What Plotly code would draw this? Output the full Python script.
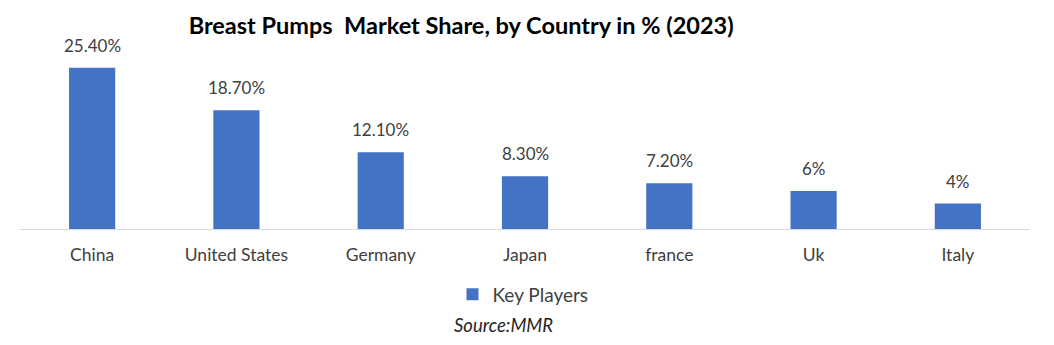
import plotly.graph_objects as go

countries = ["China", "United States", "Germany", "Japan", "france", "Uk", "Italy"]
shares = [25.4, 18.7, 12.1, 8.3, 7.2, 6, 4]
share_labels = ["25.40%", "18.70%", "12.10%", "8.30%", "7.20%", "6%", "4%"]
series_name = "Key Players"

FONT = "Lato, Carlito, Calibri, sans-serif"
TXT = "#404040"

fig = go.Figure()
fig.add_trace(go.Bar(
    x=countries, y=shares, name=series_name,
    marker=dict(color="#4472C4", line=dict(width=0)),
    showlegend=True,
))

for c, v, lab in zip(countries, shares, share_labels):
    fig.add_annotation(x=c, y=v, text=lab, showarrow=False, yanchor="bottom",
                       yshift=10, font=dict(family=FONT, size=17, color=TXT))

fig.add_annotation(x=0.479, y=-0.52, xref="paper", yref="paper", showarrow=False,
                   text="<i>Source:MMR</i>", xanchor="center", yanchor="middle",
                   font=dict(family=FONT, size=18.5, color="#262626"))

fig.update_layout(
    width=1054, height=345,
    margin=dict(l=20, r=24, t=45, b=116),
    paper_bgcolor="white", plot_bgcolor="white",
    title=dict(text="<b>Breast Pumps\u00a0 Market Share, by Country in % (2023)</b>",
               x=0.4375, xanchor="center", y=0.925, yanchor="middle",
               font=dict(family=FONT, size=23.5, color="black")),
    bargap=0.68,
    xaxis=dict(showline=True, linecolor="#D9D9D9", linewidth=1, ticks="",
               ticklabelstandoff=10,
               tickfont=dict(family=FONT, size=17.5, color=TXT), showgrid=False),
    yaxis=dict(range=[0, 29.0], visible=False, showgrid=False),
    legend=dict(orientation="h", x=0.498, xanchor="center", y=-0.355, yanchor="middle",
                itemwidth=30,
                font=dict(family=FONT, size=19, color=TXT)),
)

fig.write_html("out.html")
